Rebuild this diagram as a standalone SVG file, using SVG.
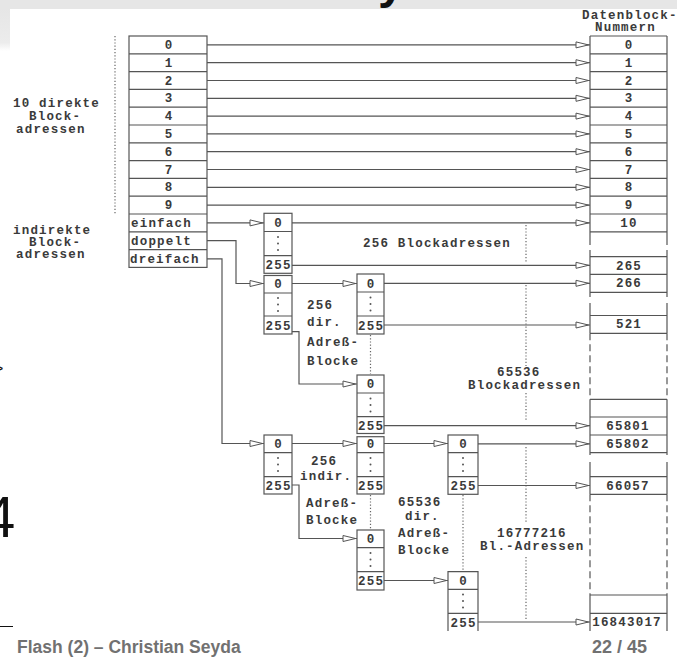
<svg xmlns="http://www.w3.org/2000/svg" width="677" height="657" viewBox="0 0 677 657">
<defs>
<style>
.ln{stroke:#555;stroke-width:1.2;fill:none}
.bx{stroke:#555;stroke-width:1.2;fill:#fff}
.dot{stroke:#666;stroke-width:1.2;stroke-dasharray:1.2 2;fill:none}
.dash{stroke:#555;stroke-width:1.2;stroke-dasharray:7 4;fill:none}
.t{font-family:"Liberation Mono","DejaVu Sans Mono",monospace;font-size:12.5px;font-weight:bold;fill:#3a3a3a;letter-spacing:1.2px}
.c{text-anchor:middle}
.dd{fill:#555}
.foot{font-family:"Liberation Sans",Arial,sans-serif;font-weight:bold;fill:#717171}
</style>
<marker id="ah" markerUnits="userSpaceOnUse" viewBox="-15 -4 16 8" refX="0" refY="0" markerWidth="16" markerHeight="8" orient="auto">
<path d="M-14,-3 L-1.5,0 L-14,3 Z" fill="#fff" stroke="#555" stroke-width="1"/>
</marker>
<linearGradient id="lg" x1="0" y1="0" x2="0" y2="1">
<stop offset="0" stop-color="#e6e6e6"/><stop offset="0.8" stop-color="#ececec"/><stop offset="1" stop-color="#ffffff"/>
</linearGradient>
</defs>
<rect x="0" y="0" width="677" height="657" fill="#fff"/>
<g id="slide-chrome">
<rect x="0" y="0" width="677" height="9" fill="#e6e6e6"/>
<rect x="0" y="9" width="10" height="42" fill="url(#lg)"/>
<text x="378" y="-2" font-family="Liberation Sans,Arial,sans-serif" font-weight="bold" font-size="48" fill="#111">y</text>
<text x="-6" y="373.5" font-family="Liberation Sans,Arial,sans-serif" font-size="16" fill="#111">&gt;</text>
<text x="-17" y="537" font-family="Liberation Sans,Arial,sans-serif" font-size="58" fill="#111">4</text>
<line x1="0" y1="626.5" x2="13" y2="626.5" stroke="#111" stroke-width="1"/>
<text class="foot" x="17" y="653" font-size="17.5">Flash (2) – Christian Seyda</text>
<text class="foot" x="647" y="653" font-size="18" text-anchor="end">22 / 45</text>
</g>

<g id="labels">
<line class="dot" x1="115" y1="36" x2="115" y2="215"/>
<text class="t" x="13" y="107">10 direkte</text>
<text class="t" x="29" y="120">Block-</text>
<text class="t" x="16" y="132.5">adressen</text>
<text class="t" x="13" y="234">indirekte</text>
<text class="t" x="29" y="246">Block-</text>
<text class="t" x="16" y="257.5">adressen</text>
<text class="t" x="582" y="19">Datenblock-</text>
<text class="t" x="595" y="31">Nummern</text>
<text class="t" x="363" y="247">256 Blockadressen</text>
<text class="t" x="307" y="309">256</text>
<text class="t" x="307" y="326">dir.</text>
<text class="t" x="307" y="346">Adreß-</text>
<text class="t" x="307" y="365">Blocke</text>
<text class="t" x="497" y="376">65536</text>
<text class="t" x="468" y="388.5">Blockadressen</text>
<text class="t" x="311" y="465">256</text>
<text class="t" x="300" y="480">indir.</text>
<text class="t" x="306" y="507">Adreß-</text>
<text class="t" x="306" y="524">Blocke</text>
<text class="t" x="398" y="506">65536</text>
<text class="t" x="405" y="519.5">dir.</text>
<text class="t" x="398" y="536.5">Adreß-</text>
<text class="t" x="398" y="554">Blocke</text>
<text class="t" x="497" y="537">16777216</text>
<text class="t" x="480" y="549.5">Bl.-Adressen</text>
<line class="dot" x1="526" y1="225" x2="526" y2="262"/>
<line class="dot" x1="526" y1="285" x2="526" y2="366"/>
<line class="dot" x1="526" y1="393" x2="526" y2="421"/>
<line class="dot" x1="526" y1="447" x2="526" y2="523"/>
<line class="dot" x1="526" y1="557" x2="526" y2="619"/>
<line class="dot" x1="370.5" y1="335" x2="370.5" y2="374"/>
<line class="dot" x1="370.5" y1="495" x2="370.5" y2="529"/>
<line class="dot" x1="463" y1="495" x2="463" y2="571"/>
</g>

<g id="inode">
<rect class="bx" x="129" y="36" width="78" height="231.4"/>
<path class="ln" d="M129,53.8H207M129,71.6H207M129,89.4H207M129,107.2H207M129,125H207M129,142.8H207M129,160.6H207M129,178.4H207M129,196.2H207M129,214H207M129,231.8H207M129,249.6H207"/>
<text class="t c" x="169" y="49">0</text>
<text class="t c" x="169" y="66.7">1</text>
<text class="t c" x="169" y="84.5">2</text>
<text class="t c" x="169" y="102.3">3</text>
<text class="t c" x="169" y="120.1">4</text>
<text class="t c" x="169" y="137.9">5</text>
<text class="t c" x="169" y="155.7">6</text>
<text class="t c" x="169" y="173.5">7</text>
<text class="t c" x="169" y="191.3">8</text>
<text class="t c" x="169" y="209.1">9</text>
<text class="t" x="131" y="227">einfach</text>
<text class="t" x="131" y="244.7">doppelt</text>
<text class="t" x="130" y="262.5">dreifach</text>
</g>

<g id="datablocks">
<path class="ln" d="M590,36H667M590,53.8H667M590,71.6H667M590,89.4H667M590,107.2H667M590,125H667M590,142.8H667M590,160.6H667M590,178.4H667M590,196.2H667M590,214H667M590,231.8H667M590,256.7H667M590,274.3H667M590,292.3H667M590,315.5H667M590,333.3H667M590,399.3H667M590,417H667M590,435H667M590,452.7H667M590,476.7H667M590,494.3H667M590,595H667M590,613.3H667"/>
<path class="ln" d="M590,36V245M590,250V297M590,303V333.3M590,399.3V455M590,462V494.3M590,595V631M667,36V245M667,250V297M667,303V333.3M667,399.3V455M667,462V494.3M667,595V631"/>
<path class="dash" d="M590,333.3V399.3M667,333.3V399.3M590,494.3V595M667,494.3V595"/>
<text class="t c" x="629" y="49">0</text>
<text class="t c" x="629" y="66.7">1</text>
<text class="t c" x="629" y="84.5">2</text>
<text class="t c" x="629" y="102.3">3</text>
<text class="t c" x="629" y="120.1">4</text>
<text class="t c" x="629" y="137.9">5</text>
<text class="t c" x="629" y="155.7">6</text>
<text class="t c" x="629" y="173.5">7</text>
<text class="t c" x="629" y="191.3">8</text>
<text class="t c" x="629" y="209.1">9</text>
<text class="t c" x="629" y="227">10</text>
<text class="t c" x="629" y="269.5">265</text>
<text class="t c" x="629" y="287.3">266</text>
<text class="t c" x="629" y="328.4">521</text>
<text class="t c" x="628" y="430">65801</text>
<text class="t c" x="628" y="448">65802</text>
<text class="t c" x="628" y="489.5">66057</text>
<text class="t c" x="627" y="626">16843017</text>
</g>

<g id="blockA">
<rect class="bx" x="264" y="213.3" width="28" height="60"/>
<path class="ln" d="M264,231.5H292M264,255.7H292"/>
<text class="t c" x="278.6" y="226.5">0</text>
<circle class="dd" cx="278" cy="237" r="1"/><circle class="dd" cx="278" cy="243.5" r="1"/><circle class="dd" cx="278" cy="250" r="1"/>
<text class="t c" x="278.6" y="268.7">255</text>
</g>
<g id="blockB">
<rect class="bx" x="264" y="275.5" width="28" height="58.5"/>
<path class="ln" d="M264,293H292M264,316H292"/>
<text class="t c" x="278.6" y="288.3">0</text>
<circle class="dd" cx="278" cy="298" r="1"/><circle class="dd" cx="278" cy="304.5" r="1"/><circle class="dd" cx="278" cy="311" r="1"/>
<text class="t c" x="278.6" y="329.5">255</text>
</g>
<g id="blockC">
<rect class="bx" x="357" y="274" width="27" height="60"/>
<path class="ln" d="M357,292H384M357,316H384"/>
<text class="t c" x="371.1" y="287.5">0</text>
<circle class="dd" cx="370.5" cy="297.5" r="1"/><circle class="dd" cx="370.5" cy="304" r="1"/><circle class="dd" cx="370.5" cy="310.5" r="1"/>
<text class="t c" x="371.1" y="329.5">255</text>
</g>
<g id="blockD">
<rect class="bx" x="357" y="375" width="27" height="58.5"/>
<path class="ln" d="M357,393H384M357,416.7H384"/>
<text class="t c" x="371.1" y="388.3">0</text>
<circle class="dd" cx="370.5" cy="398.5" r="1"/><circle class="dd" cx="370.5" cy="405" r="1"/><circle class="dd" cx="370.5" cy="411.5" r="1"/>
<text class="t c" x="371.1" y="429.5">255</text>
</g>
<g id="blockE">
<rect class="bx" x="264" y="435" width="28" height="59"/>
<path class="ln" d="M264,452.7H292M264,476.7H292"/>
<text class="t c" x="278.6" y="448">0</text>
<circle class="dd" cx="278" cy="458" r="1"/><circle class="dd" cx="278" cy="464.5" r="1"/><circle class="dd" cx="278" cy="471" r="1"/>
<text class="t c" x="278.6" y="489.5">255</text>
</g>
<g id="blockF">
<rect class="bx" x="357" y="436.7" width="27" height="57.3"/>
<path class="ln" d="M357,452.7H384M357,476.7H384"/>
<text class="t c" x="371.1" y="448">0</text>
<circle class="dd" cx="370.5" cy="458" r="1"/><circle class="dd" cx="370.5" cy="464.5" r="1"/><circle class="dd" cx="370.5" cy="471" r="1"/>
<text class="t c" x="371.1" y="489.5">255</text>
</g>
<g id="blockG">
<rect class="bx" x="448" y="435" width="30" height="59.3"/>
<path class="ln" d="M448,452.7H478M448,476.7H478"/>
<text class="t c" x="463.6" y="448">0</text>
<circle class="dd" cx="463" cy="458" r="1"/><circle class="dd" cx="463" cy="464.5" r="1"/><circle class="dd" cx="463" cy="471" r="1"/>
<text class="t c" x="463.6" y="489.5">255</text>
</g>
<g id="blockH">
<rect class="bx" x="357" y="530" width="27" height="60"/>
<path class="ln" d="M357,547.7H384M357,571.7H384"/>
<text class="t c" x="371.1" y="543">0</text>
<circle class="dd" cx="370.5" cy="553" r="1"/><circle class="dd" cx="370.5" cy="559.5" r="1"/><circle class="dd" cx="370.5" cy="566" r="1"/>
<text class="t c" x="371.1" y="585">255</text>
</g>
<g id="blockI">
<path class="bx" d="M448,631V571.7H478V631"/>
<path class="ln" d="M448,589.3H478M448,613.3H478"/>
<text class="t c" x="463.6" y="584.5">0</text>
<circle class="dd" cx="463" cy="594.5" r="1"/><circle class="dd" cx="463" cy="601" r="1"/><circle class="dd" cx="463" cy="607.5" r="1"/>
<text class="t c" x="463.6" y="626.5">255</text>
</g>

<g id="connectors">
<path class="ln" marker-end="url(#ah)" d="M207,44.9H590"/>
<path class="ln" marker-end="url(#ah)" d="M207,62.7H590"/>
<path class="ln" marker-end="url(#ah)" d="M207,80.5H590"/>
<path class="ln" marker-end="url(#ah)" d="M207,98.3H590"/>
<path class="ln" marker-end="url(#ah)" d="M207,116.1H590"/>
<path class="ln" marker-end="url(#ah)" d="M207,133.9H590"/>
<path class="ln" marker-end="url(#ah)" d="M207,151.7H590"/>
<path class="ln" marker-end="url(#ah)" d="M207,169.5H590"/>
<path class="ln" marker-end="url(#ah)" d="M207,187.3H590"/>
<path class="ln" marker-end="url(#ah)" d="M207,205.1H590"/>
<path class="ln" marker-end="url(#ah)" d="M207,222.9H264"/>
<path class="ln" marker-end="url(#ah)" d="M207,240.7H236V283.5H264"/>
<path class="ln" marker-end="url(#ah)" d="M207,258.8H222V443.5H264"/>
<path class="ln" marker-end="url(#ah)" d="M292,222.9H590"/>
<path class="ln" marker-end="url(#ah)" d="M292,265.3H590"/>
<path class="ln" marker-end="url(#ah)" d="M292,283.5H357"/>
<path class="ln" marker-end="url(#ah)" d="M384,283.3H590"/>
<path class="ln" marker-end="url(#ah)" d="M384,325H590"/>
<path class="ln" marker-end="url(#ah)" d="M292,331.7H299V384H357"/>
<path class="ln" marker-end="url(#ah)" d="M384,425.7H590"/>
<path class="ln" marker-end="url(#ah)" d="M292,443.5H357"/>
<path class="ln" marker-end="url(#ah)" d="M384,443.5H448"/>
<path class="ln" marker-end="url(#ah)" d="M478,443.8H590"/>
<path class="ln" marker-end="url(#ah)" d="M478,485.5H590"/>
<path class="ln" marker-end="url(#ah)" d="M292,485H299V538.5H357"/>
<path class="ln" marker-end="url(#ah)" d="M384,580.5H448"/>
<path class="ln" marker-end="url(#ah)" d="M478,622H590"/>
</g>
</svg>
